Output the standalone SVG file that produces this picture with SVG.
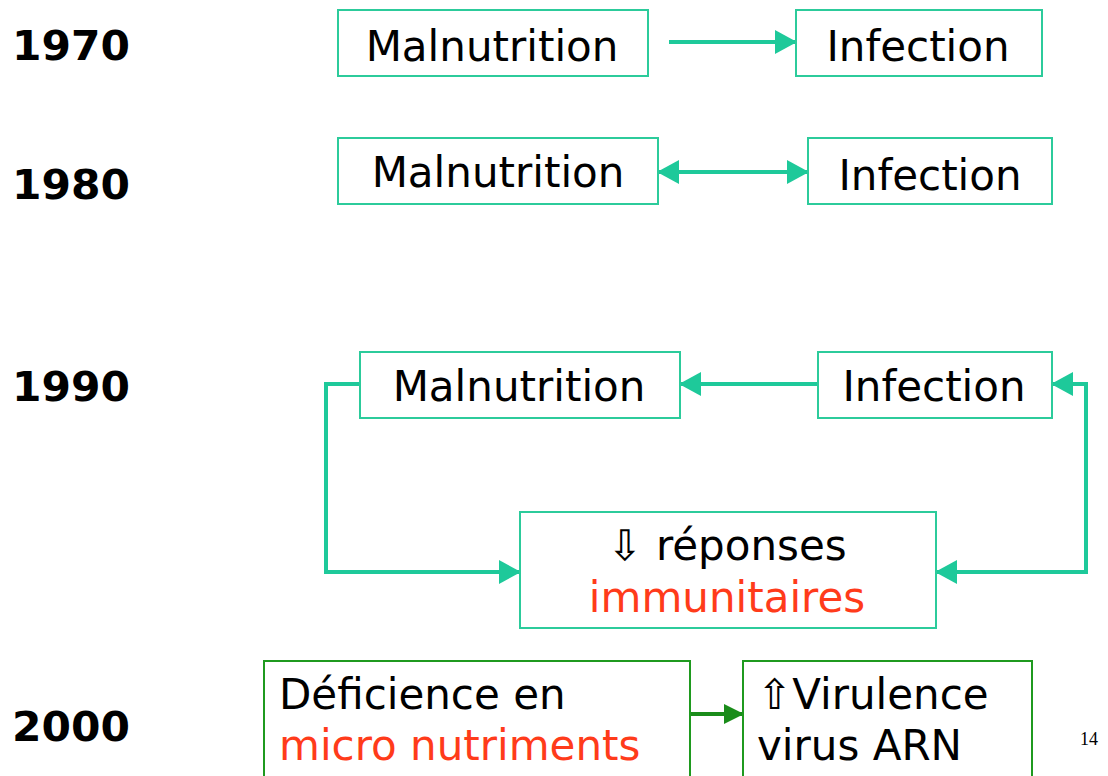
<svg xmlns="http://www.w3.org/2000/svg" width="1108" height="776" viewBox="0 0 1108 776">
<style>
.box{fill:#fff;stroke:#2ccb9b;stroke-width:2}
.gbox{fill:#fff;stroke:#1f9a1f;stroke-width:2}
.t{font-family:"DejaVu Sans",Verdana,sans-serif;font-size:42px;fill:#000}
.red{fill:#ff3b1a}
.yr{font-family:"DejaVu Sans",Verdana,sans-serif;font-size:40px;font-weight:bold;fill:#000}
.c{fill:none;stroke:#1ec99a;stroke-width:4}
.cg{fill:none;stroke:#1a8c1a;stroke-width:4}
</style>
<defs>
<marker id="ah" markerUnits="userSpaceOnUse" markerWidth="22" markerHeight="24" refX="21" refY="12" orient="auto-start-reverse"><path d="M0,0 L22,12 L0,24 z" fill="#1ec99a"/></marker>
<marker id="ahg" markerUnits="userSpaceOnUse" markerWidth="20" markerHeight="20" refX="19" refY="10" orient="auto"><path d="M0,0 L20,10 L0,20 z" fill="#1a8c1a"/></marker>
</defs>
<rect width="1108" height="776" fill="#fff"/>
<g id="years">
<text class="yr" x="12" y="60" textLength="118" lengthAdjust="spacingAndGlyphs">1970</text>
<text class="yr" x="12" y="199" textLength="118" lengthAdjust="spacingAndGlyphs">1980</text>
<text class="yr" x="12" y="401" textLength="118" lengthAdjust="spacingAndGlyphs">1990</text>
<text class="yr" x="12" y="741" textLength="118" lengthAdjust="spacingAndGlyphs">2000</text>
</g>
<g id="connectors">
<path class="c" d="M669,42 H796" stroke-width="3" marker-end="url(#ah)"/>
<path class="c" d="M658,172 H808" marker-start="url(#ah)" marker-end="url(#ah)"/>
<path class="c" d="M818,384 H680" marker-end="url(#ah)"/>
<path class="c" d="M360,384 H326 V572 H520" marker-end="url(#ah)"/>
<path class="c" d="M936,572 H1086 V384 H1052" marker-start="url(#ah)" marker-end="url(#ah)"/>
<path class="cg" d="M690,714 H743" marker-end="url(#ahg)"/>
</g>
<g id="n1970-malnutrition"><rect class="box" x="338" y="10" width="310" height="66"/><text class="t" x="492" y="61" text-anchor="middle">Malnutrition</text></g>
<g id="n1970-infection"><rect class="box" x="796" y="10" width="246" height="66"/><text class="t" x="918" y="61" text-anchor="middle">Infection</text></g>
<g id="n1980-malnutrition"><rect class="box" x="338" y="138" width="320" height="66"/><text class="t" x="498" y="187" text-anchor="middle">Malnutrition</text></g>
<g id="n1980-infection"><rect class="box" x="808" y="138" width="244" height="66"/><text class="t" x="930" y="190" text-anchor="middle">Infection</text></g>
<g id="n1990-malnutrition"><rect class="box" x="360" y="352" width="320" height="66"/><text class="t" x="519" y="401" text-anchor="middle">Malnutrition</text></g>
<g id="n1990-infection"><rect class="box" x="818" y="352" width="234" height="66"/><text class="t" x="934" y="401" text-anchor="middle">Infection</text></g>
<g id="n1990-immune"><rect class="box" x="520" y="512" width="416" height="116"/><text class="t" x="727" y="560" text-anchor="middle">⇩ réponses</text><text class="t red" x="727" y="612" text-anchor="middle">immunitaires</text></g>
<g id="n2000-deficience"><rect class="gbox" x="264" y="661" width="426" height="130"/><text class="t" x="279" y="709">Déficience en</text><text class="t red" x="279" y="760">micro nutriments</text></g>
<g id="n2000-virulence"><rect class="gbox" x="743" y="661" width="289" height="130"/><text class="t" x="757" y="709">⇧Virulence</text><text class="t" x="757" y="760">virus ARN</text></g>
<text x="1080" y="745" font-family="Liberation Serif,serif" font-size="18" fill="#000">14</text>
</svg>
